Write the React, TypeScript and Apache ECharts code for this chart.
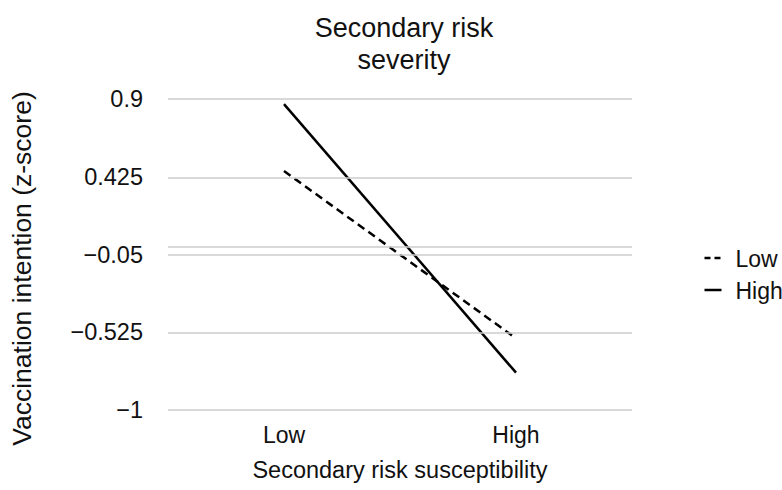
import React, { useEffect, useRef } from "react";
import * as echarts from "echarts";

const categories = ["Low", "High"];
const seriesNames = ["Low", "High"];
const lowSeverity = [0.46, -0.562];
const highSeverity = [0.869, -0.772];
const tickValues = [0.9, 0.425, -0.05, -0.525, -1];
const zeroLine = [0];

const FONT = "'Liberation Sans', Arial, Helvetica, sans-serif";
const TEXT = "#111111";
const DASH = [8, 5];

export default function App() {
  const ref = useRef<HTMLDivElement>(null);
  useEffect(() => {
    const chart = echarts.init(ref.current!, null, { renderer: "svg" });
    const legendItems = seriesNames.map((name, i) => ({
      type: "group",
      left: 702,
      top: 247 + i * 32,
      children: [
        {
          type: "line",
          shape: { x1: 0, y1: 13, x2: 17, y2: 13 },
          style: { stroke: "#000", lineWidth: 2.5, lineDash: i === 0 ? [6, 4] : null },
        },
        {
          type: "text",
          x: 31,
          y: 2,
          style: { text: name, fontFamily: FONT, fontSize: 23, fill: TEXT },
        },
      ],
    }));
    chart.setOption({
      animation: false,
      backgroundColor: "#ffffff",
      textStyle: { fontFamily: FONT, color: TEXT },
      title: {
        text: "Secondary risk\nseverity",
        left: 399,
        textAlign: "center",
        top: 7,
        textStyle: { fontFamily: FONT, fontSize: 27, fontWeight: "normal", color: TEXT, lineHeight: 32 },
      },
      graphic: legendItems,
      grid: { left: 166, right: 150, top: 99, bottom: 80 },
      xAxis: {
        type: "category",
        data: categories,
        boundaryGap: true,
        axisLine: { show: false },
        axisTick: { show: false },
        axisLabel: { fontFamily: FONT, fontSize: 23, color: TEXT, margin: 13 },
        name: "Secondary risk susceptibility",
        nameLocation: "middle",
        nameGap: 48,
        nameTextStyle: { fontFamily: FONT, fontSize: 23.5, color: TEXT },
      },
      yAxis: {
        type: "value",
        min: -1,
        max: 0.9,
        axisLine: { show: false },
        axisTick: { show: false },
        splitLine: { show: false },
        axisLabel: {
          customValues: tickValues,
          fontFamily: FONT,
          fontSize: 23.5,
          color: TEXT,
          margin: 25,
          formatter: (v: number) => String(+v.toFixed(3)).replace("-", "\u2212"),
        },
        name: "Vaccination intention (z-score)",
        nameLocation: "middle",
        nameGap: 133,
        nameTextStyle: { fontFamily: FONT, fontSize: 26.5, color: TEXT, padding: [0, 28, 0, 0] },
      },
      series: [
        {
          name: "grid",
          type: "line",
          data: [],
          z: 1,
          silent: true,
          markLine: {
            silent: true,
            symbol: "none",
            label: { show: false },
            lineStyle: { color: "#cccccc", width: 1.5, type: "solid" },
            data: [...tickValues, ...zeroLine].map((v) => ({ yAxis: v })),
          },
        },
        {
          name: seriesNames[0],
          type: "line",
          data: lowSeverity,
          z: 3,
          symbol: "none",
          lineStyle: { color: "#000000", width: 2.5, type: DASH },
        },
        {
          name: seriesNames[1],
          type: "line",
          data: highSeverity,
          z: 3,
          symbol: "none",
          lineStyle: { color: "#000000", width: 2.5, type: "solid" },
        },
      ],
    });
    return () => chart.dispose();
  }, []);
  return <div ref={ref} style={{ width: 782, height: 490, position: "absolute", left: 0, top: 0 }} />;
}
